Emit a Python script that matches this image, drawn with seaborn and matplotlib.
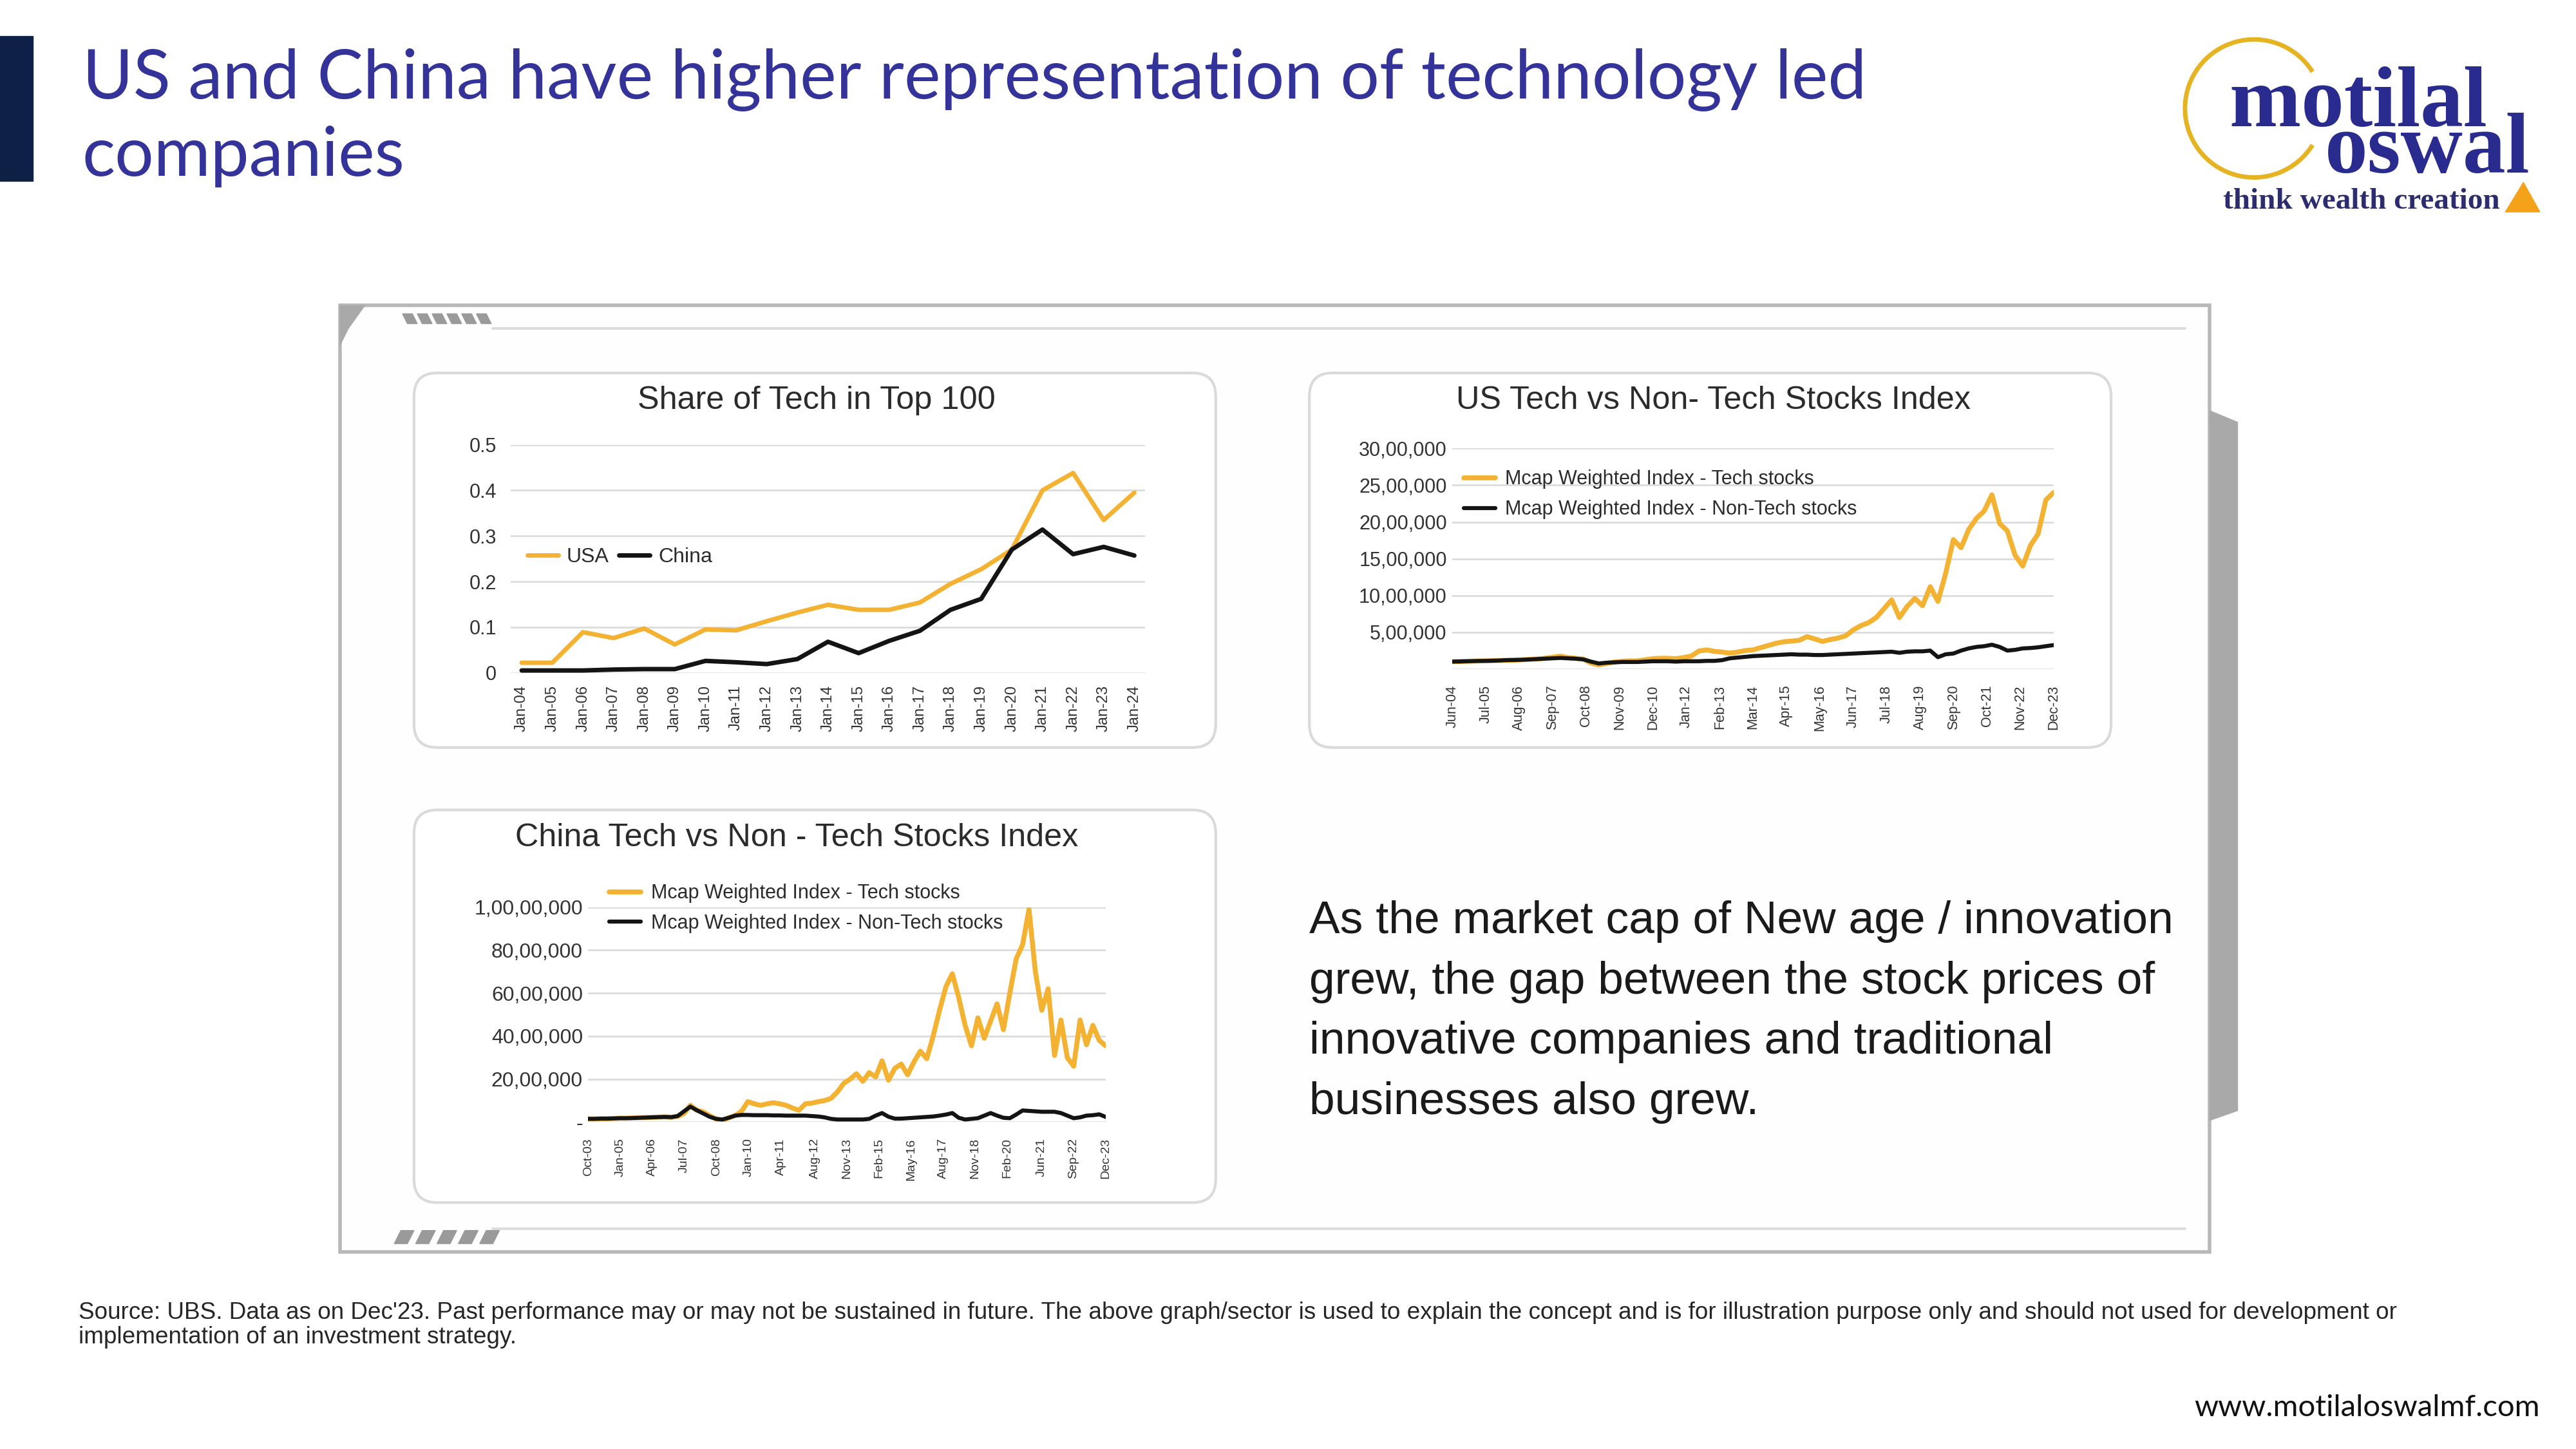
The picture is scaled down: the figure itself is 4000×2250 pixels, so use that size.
import pandas as pd
import matplotlib
matplotlib.use('Agg')
import matplotlib.pyplot as plt
import seaborn as sns
from matplotlib.patches import FancyBboxPatch, Polygon, Rectangle, Arc
from matplotlib.ticker import FuncFormatter

# ---------------- data ----------------
# Share of Tech in Top 100 (annual)
share_years = ['Jan-04', 'Jan-05', 'Jan-06', 'Jan-07', 'Jan-08', 'Jan-09', 'Jan-10',
               'Jan-11', 'Jan-12', 'Jan-13', 'Jan-14', 'Jan-15', 'Jan-16', 'Jan-17',
               'Jan-18', 'Jan-19', 'Jan-20', 'Jan-21', 'Jan-22', 'Jan-23', 'Jan-24']
share_usa = [0.022, 0.022, 0.089, 0.076, 0.097, 0.062, 0.095, 0.093, 0.113, 0.132, 0.149,
             0.138, 0.138, 0.154, 0.195, 0.227, 0.270, 0.400, 0.438, 0.335, 0.395]
share_china = [0.005, 0.005, 0.005, 0.007, 0.008, 0.008, 0.026, 0.023, 0.019, 0.030, 0.068,
               0.043, 0.070, 0.092, 0.138, 0.162, 0.270, 0.314, 0.260, 0.276, 0.257]

# US Tech vs Non-Tech index, quarterly readings Jun-04 .. Dec-23 (in lakh)
us_start, us_end = '2004-06-01', '2023-12-01'
us_ticks = ['Jun-04', 'Jul-05', 'Aug-06', 'Sep-07', 'Oct-08', 'Nov-09', 'Dec-10', 'Jan-12',
            'Feb-13', 'Mar-14', 'Apr-15', 'May-16', 'Jun-17', 'Jul-18', 'Aug-19', 'Sep-20',
            'Oct-21', 'Nov-22', 'Dec-23']
us_tech_lakh = [1.00, 1.02, 1.05, 1.08, 1.10, 1.12, 1.15, 1.18, 1.20, 1.25,
                1.30, 1.35, 1.45, 1.60, 1.75, 1.55, 1.45, 1.35, 0.80, 0.55,
                0.75, 0.95, 1.05, 1.10, 1.10, 1.25, 1.40, 1.45, 1.45, 1.40,
                1.55, 1.75, 2.45, 2.60, 2.40, 2.30, 2.15, 2.30, 2.50, 2.60,
                2.90, 3.20, 3.50, 3.70, 3.80, 3.90, 4.40, 4.10, 3.75, 4.00,
                4.20, 4.50, 5.30, 5.90, 6.30, 7.00, 8.20, 9.40, 7.00, 8.50,
                9.60, 8.60, 11.20, 9.20, 13.00, 17.60, 16.50, 19.00, 20.50, 21.50,
                23.70, 19.80, 18.80, 15.50, 14.00, 16.80, 18.40, 23.00, 24.00]
us_nontech_lakh = [1.00, 1.02, 1.05, 1.08, 1.10, 1.12, 1.15, 1.20, 1.22, 1.25,
                   1.30, 1.35, 1.40, 1.45, 1.50, 1.45, 1.40, 1.30, 1.00, 0.75,
                   0.85, 0.90, 0.95, 0.95, 0.95, 1.00, 1.05, 1.05, 1.05, 1.00,
                   1.05, 1.05, 1.05, 1.10, 1.10, 1.20, 1.45, 1.55, 1.65, 1.75,
                   1.80, 1.85, 1.90, 1.95, 2.00, 1.95, 1.95, 1.90, 1.90, 1.95,
                   2.00, 2.05, 2.10, 2.15, 2.20, 2.25, 2.30, 2.35, 2.20, 2.35,
                   2.40, 2.40, 2.50, 1.60, 2.00, 2.10, 2.50, 2.80, 3.00, 3.10,
                   3.30, 3.00, 2.50, 2.60, 2.80, 2.85, 2.95, 3.10, 3.25]

# China Tech vs Non-Tech index, ~quarterly readings Oct-03 .. Dec-23 (in lakh)
cn_start, cn_end = '2003-10-01', '2023-12-01'
cn_ticks = ['Oct-03', 'Jan-05', 'Apr-06', 'Jul-07', 'Oct-08', 'Jan-10', 'Apr-11', 'Aug-12',
            'Nov-13', 'Feb-15', 'May-16', 'Aug-17', 'Nov-18', 'Feb-20', 'Jun-21', 'Sep-22',
            'Dec-23']
cn_tech_lakh = [1.5, 1.5, 1.6, 1.6, 1.7, 1.8, 1.8, 1.9, 2.0, 2.1,
                2.2, 2.3, 2.4, 2.2, 2.6, 4.0, 7.8, 5.5, 4.8, 3.0,
                1.5, 0.6, 2.0, 3.0, 5.0, 9.5, 8.5, 7.8, 8.5, 9.0,
                8.5, 7.8, 6.5, 5.5, 8.5, 8.8, 9.5, 10.0, 11.0, 14.0,
                18.0, 20.0, 22.5, 19.0, 23.0, 21.0, 28.5, 19.5, 25.0, 27.0,
                22.0, 28.0, 33.0, 29.5, 40.0, 52.0, 63.0, 69.0, 58.0, 45.0,
                35.5, 48.5, 39.0, 47.0, 55.0, 43.0, 60.0, 76.0, 82.5, 99.0,
                70.0, 52.0, 62.0, 31.0, 47.5, 30.0, 26.0, 47.5, 36.0, 45.0,
                38.0, 35.5]
cn_nontech_lakh = [1.5, 1.5, 1.6, 1.6, 1.7, 1.8, 1.8, 1.9, 2.0, 2.1,
                   2.2, 2.3, 2.4, 2.3, 2.8, 5.0, 7.2, 5.5, 4.0, 2.5,
                   1.5, 1.2, 2.0, 3.0, 3.3, 3.3, 3.2, 3.2, 3.2, 3.1,
                   3.1, 3.0, 3.0, 3.0, 3.0, 2.8, 2.6, 2.2, 1.5, 1.2,
                   1.2, 1.2, 1.2, 1.2, 1.5, 3.0, 4.2, 2.5, 1.6, 1.6,
                   1.8, 2.0, 2.2, 2.4, 2.6, 3.0, 3.5, 4.2, 2.0, 1.2,
                   1.5, 1.8, 3.0, 4.2, 3.0, 2.0, 1.8, 3.5, 5.4, 5.2,
                   5.0, 4.8, 4.8, 4.8, 4.2, 3.0, 1.8, 2.2, 3.0, 3.2,
                   3.6, 2.4]

LAKH = 100000
ORANGE = '#F4B233'
BLACK = '#141414'
GRID = '#d9d9d9'
TICK = '#333333'
NAVY = '#333399'

sns.set_theme(style='white')
plt.rcParams['font.family'] = ['Liberation Sans', 'DejaVu Sans']

W, H = 1568, 882   # layout grid (reference at 1568 px wide)


def fbox(x0, y0, x1, y1):
    return [x0 / W, 1 - y1 / H, (x1 - x0) / W, (y1 - y0) / H]


def fxy(x, y):
    return (x / W, 1 - y / H)


def indian(v, zero=''):
    v = int(round(v))
    if v == 0:
        return zero
    s = str(v)
    head, tail = s[:-3], s[-3:]
    groups = []
    while len(head) > 2:
        groups.insert(0, head[-2:])
        head = head[:-2]
    if head:
        groups.insert(0, head)
    return ','.join(groups + [tail])


def style_ax(ax, ysize, xsize, xpad, ypad):
    sns.despine(ax=ax, left=True, bottom=True)
    ax.set_facecolor('none')
    ax.set_zorder(5)
    ax.grid(axis='y', color=GRID, lw=1.8)
    ax.grid(axis='x', visible=False)
    ax.tick_params(axis='y', labelsize=ysize, colors=TICK, length=0, pad=ypad)
    ax.tick_params(axis='x', labelsize=xsize, colors=TICK, length=0, pad=xpad)
    ax.set_xlabel('')
    ax.set_ylabel('')


fig = plt.figure(figsize=(40, 22.5), dpi=100)
fig.patch.set_facecolor('white')

# ---------------- slide decoration ----------------
fig.patches.append(Rectangle(fxy(0, 110), 20 / W, 88 / H, transform=fig.transFigure,
                             color='#0f2047', zorder=1))
fig.text(*fxy(50, 60), 'US and China have higher representation of technology led',
         fontsize=77, color=NAVY, family=['Lato', 'DejaVu Sans'], va='baseline')
fig.text(*fxy(50, 107), 'companies',
         fontsize=77, color=NAVY, family=['Lato', 'DejaVu Sans'], va='baseline')

# logo (two stacked words in one text block; baseline anchors the last line)
fig.patches.append(Arc(fxy(1372, 66), 84 / W, 84 / H, theta1=48, theta2=312,
                       transform=fig.transFigure, color='#e6b422', lw=5))
fig.text(*fxy(1540, 105), 'motilal  \noswal', fontsize=96, fontweight='bold', color='#2a2b8f',
         family=['Liberation Serif', 'DejaVu Serif'], ha='right', va='baseline',
         multialignment='right', linespacing=0.47)
fig.text(*fxy(1353, 127), 'think wealth creation', fontsize=34, fontweight='bold',
         color='#2d2c6e', family=['Liberation Serif', 'DejaVu Serif'], va='baseline')
fig.patches.append(Polygon([fxy(1525, 129), fxy(1546, 129), fxy(1536, 111)], closed=True,
                           transform=fig.transFigure, color='#f5a21b'))

# outer panel frame
fig.patches.append(Rectangle(fxy(207, 762), (1345 - 207) / W, (762 - 186) / H,
                             transform=fig.transFigure, facecolor='#fefefe',
                             edgecolor='#b8b8b8', lw=4, zorder=0))
fig.lines.append(plt.Line2D([300 / W, 1330 / W], [1 - 200 / H, 1 - 200 / H],
                            transform=fig.transFigure, color='#dcdcdc', lw=3))
fig.lines.append(plt.Line2D([300 / W, 1330 / W], [1 - 748 / H, 1 - 748 / H],
                            transform=fig.transFigure, color='#dcdcdc', lw=3))
fig.patches.append(Polygon([fxy(1345, 250), fxy(1362, 257), fxy(1362, 676), fxy(1345, 682)],
                           closed=True, transform=fig.transFigure, color='#a9a9a9'))
fig.patches.append(Polygon([fxy(207, 186), fxy(222, 186), fxy(212, 200), fxy(207, 210)],
                           closed=True, transform=fig.transFigure, color='#a9a9a9'))
for i in range(6):
    x = 245 + i * 9
    fig.patches.append(Polygon([fxy(x, 191), fxy(x + 6, 191), fxy(x + 9, 197), fxy(x + 3, 197)],
                               closed=True, transform=fig.transFigure, color='#9a9a9a'))
for i in range(5):
    x = 240 + i * 13
    fig.patches.append(Polygon([fxy(x + 4, 749), fxy(x + 12, 749), fxy(x + 8, 757), fxy(x, 757)],
                               closed=True, transform=fig.transFigure, color='#9a9a9a'))

# chart cards
for (x0, y0, x1, y1) in [(252, 227, 740, 455), (797, 227, 1285, 455), (252, 493, 740, 732)]:
    fig.patches.append(FancyBboxPatch(fxy(x0, y1), (x1 - x0) / W, (y1 - y0) / H,
                                      boxstyle='round,pad=0,rounding_size=0.009',
                                      mutation_aspect=W / H, transform=fig.transFigure,
                                      facecolor='white', edgecolor='#dadada', lw=3, zorder=1))

fig.text(*fxy(497, 244), 'Share of Tech in Top 100', fontsize=36.3, color='#2b2b2b',
         ha='center', va='center')
fig.text(*fxy(1043, 244), 'US Tech vs Non- Tech Stocks Index', fontsize=36.3, color='#2b2b2b',
         ha='center', va='center')
fig.text(*fxy(485, 510), 'China Tech vs Non - Tech Stocks Index', fontsize=36.3,
         color='#2b2b2b', ha='center', va='center')

# ---------------- chart 1: share of tech ----------------
ax1 = fig.add_axes(fbox(311, 270.7, 697, 409.5))
df1 = pd.DataFrame({'pos': range(len(share_years)), 'USA': share_usa, 'China': share_china})
sns.lineplot(data=df1, x='pos', y='USA', ax=ax1, color=ORANGE, lw=5, label='USA')
sns.lineplot(data=df1, x='pos', y='China', ax=ax1, color=BLACK, lw=5, label='China')
ax1.set_ylim(0, 0.5)
ax1.set_yticks([0, 0.1, 0.2, 0.3, 0.4, 0.5])
ax1.yaxis.set_major_formatter(FuncFormatter(lambda v, p: '0' if abs(v) < 1e-9 else f'{v:.1f}'))
ax1.set_xlim(-0.35, len(share_years) - 0.65)
ax1.set_xticks(range(len(share_years)))
ax1.set_xticklabels(share_years, rotation=90)
style_ax(ax1, 22, 17, 14, 16)
ax1.legend(loc='center left', bbox_to_anchor=fxy(321, 339), bbox_transform=fig.transFigure,
           ncol=2, frameon=False, fontsize=23, handlelength=1.5, handletextpad=0.4,
           columnspacing=0.5, borderpad=0, borderaxespad=0, labelcolor='#2b2b2b')

# ---------------- chart 2: US index ----------------
ax2 = fig.add_axes(fbox(884, 273, 1250, 407.2))
us_dates = pd.date_range(us_start, us_end, periods=len(us_tech_lakh))
df2 = pd.DataFrame({'date': us_dates,
                    'tech': [v * LAKH for v in us_tech_lakh],
                    'nontech': [v * LAKH for v in us_nontech_lakh]})
sns.lineplot(data=df2, x='date', y='tech', ax=ax2, color=ORANGE, lw=5.5,
             label='Mcap Weighted Index - Tech stocks')
sns.lineplot(data=df2, x='date', y='nontech', ax=ax2, color=BLACK, lw=4.5,
             label='Mcap Weighted Index - Non-Tech stocks')
ax2.set_ylim(0, 30 * LAKH)
ax2.set_yticks([v * LAKH for v in range(0, 31, 5)])
ax2.yaxis.set_major_formatter(FuncFormatter(lambda v, p: indian(v, '')))
ax2.set_xlim(us_dates[0], us_dates[-1])
ax2.set_xticks(pd.to_datetime(us_ticks, format='%b-%y'))
ax2.set_xticklabels(us_ticks, rotation=90)
style_ax(ax2, 22, 15.5, 18, 6)
ax2.legend(loc='center left', bbox_to_anchor=fxy(891, 301), bbox_transform=fig.transFigure,
           frameon=False, fontsize=22, handlelength=1.6, handletextpad=0.5,
           labelspacing=0.55, borderpad=0, borderaxespad=0, labelcolor='#2b2b2b')

# ---------------- chart 3: China index ----------------
ax3 = fig.add_axes(fbox(358, 552.2, 673, 683))
cn_dates = pd.date_range(cn_start, cn_end, periods=len(cn_tech_lakh))
df3 = pd.DataFrame({'date': cn_dates,
                    'tech': [v * LAKH for v in cn_tech_lakh],
                    'nontech': [v * LAKH for v in cn_nontech_lakh]})
sns.lineplot(data=df3, x='date', y='tech', ax=ax3, color=ORANGE, lw=5.5,
             label='Mcap Weighted Index - Tech stocks')
sns.lineplot(data=df3, x='date', y='nontech', ax=ax3, color=BLACK, lw=4.5,
             label='Mcap Weighted Index - Non-Tech stocks')
ax3.set_ylim(0, 100 * LAKH)
ax3.set_yticks([v * LAKH for v in range(0, 101, 20)])
ax3.yaxis.set_major_formatter(FuncFormatter(lambda v, p: indian(v, '-')))
ax3.set_xlim(cn_dates[0], cn_dates[-1])
ax3.set_xticks(pd.to_datetime(cn_ticks, format='%b-%y'))
ax3.set_xticklabels(cn_ticks, rotation=90)
style_ax(ax3, 23, 14, 18, 6)
ax3.legend(loc='center left', bbox_to_anchor=fxy(371, 553), bbox_transform=fig.transFigure,
           frameon=False, fontsize=22, handlelength=1.6, handletextpad=0.5,
           labelspacing=0.55, borderpad=0, borderaxespad=0, labelcolor='#2b2b2b')

# ---------------- body text & footer ----------------
body = ['As the market cap of New age / innovation',
        'grew, the gap between the stock prices of',
        'innovative companies and traditional',
        'businesses also grew.']
for i, line in enumerate(body):
    fig.text(*fxy(797, 561 + i * 36.7), line, fontsize=51.4, color='#1a1a1a', va='center')

fig.text(*fxy(48, 799), "Source: UBS. Data as on Dec'23. Past performance may or may not be "
         "sustained in future. The above graph/sector is used to explain the concept and is for "
         "illustration purpose only and should not used for development or",
         fontsize=26.6, color='#262626', va='center')
fig.text(*fxy(48, 814), 'implementation of an investment strategy.',
         fontsize=26.6, color='#262626', va='center')
fig.text(*fxy(1546, 857), 'www.motilaloswalmf.com', fontsize=34, color='#111111',
         family=['Lato', 'DejaVu Sans'], ha='right', va='center')

fig.savefig('out.png', dpi=100, facecolor='white')
